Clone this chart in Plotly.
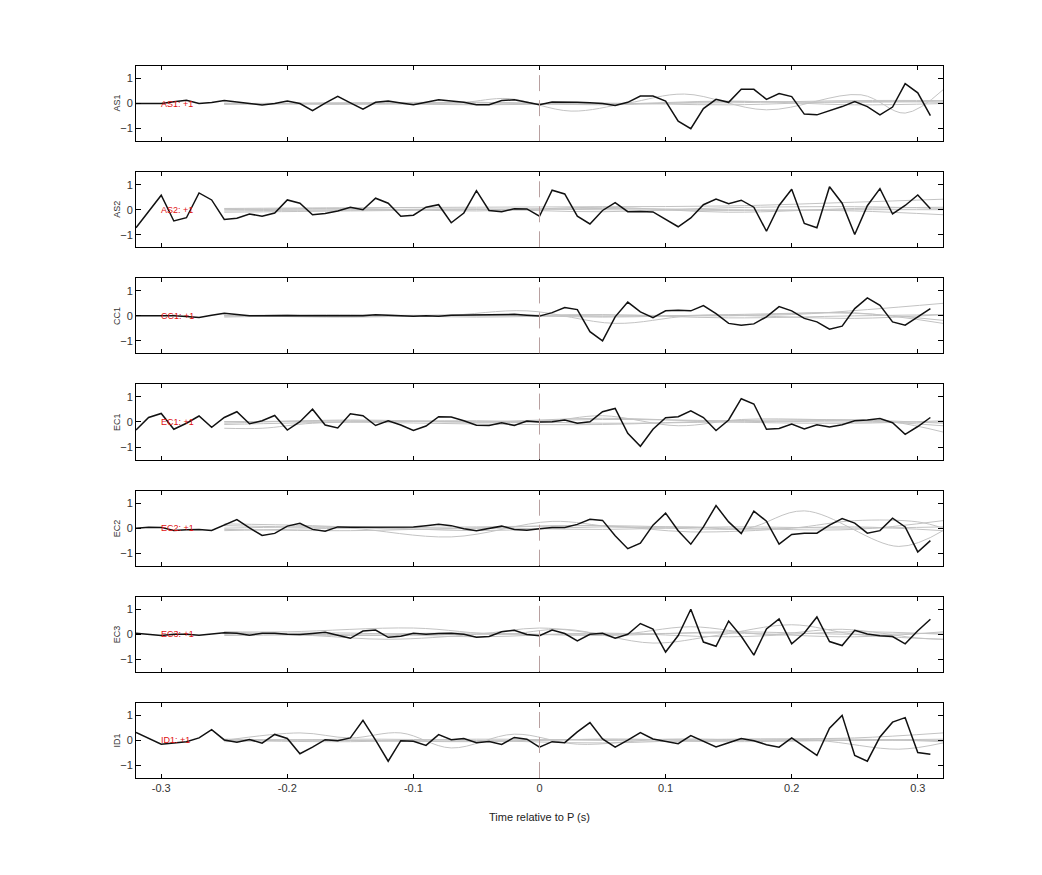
import plotly.graph_objects as go
from plotly.subplots import make_subplots

# ---------------- data ----------------
time = [-0.32, -0.31, -0.30, -0.29, -0.28, -0.27, -0.26, -0.25, -0.24, -0.23,
        -0.22, -0.21, -0.20, -0.19, -0.18, -0.17, -0.16, -0.15, -0.14, -0.13,
        -0.12, -0.11, -0.10, -0.09, -0.08, -0.07, -0.06, -0.05, -0.04, -0.03,
        -0.02, -0.01, 0.00, 0.01, 0.02, 0.03, 0.04, 0.05, 0.06, 0.07,
        0.08, 0.09, 0.10, 0.11, 0.12, 0.13, 0.14, 0.15, 0.16, 0.17,
        0.18, 0.19, 0.20, 0.21, 0.22, 0.23, 0.24, 0.25, 0.26, 0.27,
        0.28, 0.29, 0.30, 0.31]

stations = ["AS1", "AS2", "CC1", "EC1", "EC2", "EC3", "ID1"]
labels = ["AS1: +1", "AS2: +1", "CC1: +1", "EC1: +1", "EC2: +1", "EC3: +1", "ID1: +1"]

as1 = [0.0, 0.0, 0.0, 0.07, 0.13, 0.0, 0.04, 0.12, 0.06, 0.0,
       -0.06, 0.0, 0.1, 0.0, -0.28, 0.02, 0.29, 0.03, -0.22, 0.05,
       0.1, 0.02, -0.05, 0.05, 0.15, 0.1, 0.05, -0.05, -0.05, 0.12,
       0.15, 0.05, -0.05, 0.06, 0.07, 0.05, 0.03, 0.0, -0.08, 0.05,
       0.3, 0.3, 0.1, -0.7, -1.0, -0.2, 0.17, 0.05, 0.57, 0.57,
       0.17, 0.4, 0.28, -0.42, -0.45, -0.3, -0.12, 0.08, -0.12, -0.45,
       -0.14, 0.8, 0.43, -0.48]
as2 = [-0.72, -0.07, 0.58, -0.45, -0.32, 0.67, 0.39, -0.39, -0.34, -0.17,
       -0.26, -0.13, 0.39, 0.26, -0.2, -0.15, -0.05, 0.1, 0.0, 0.46,
       0.26, -0.26, -0.22, 0.1, 0.2, -0.52, -0.13, 0.76, -0.03, -0.08,
       0.04, 0.03, -0.26, 0.78, 0.63, -0.26, -0.57, -0.03, 0.28, -0.08,
       -0.07, -0.09, -0.39, -0.68, -0.33, 0.2, 0.43, 0.24, 0.38, 0.1,
       -0.86, 0.17, 0.82, -0.55, -0.72, 0.92, 0.26, -0.99, 0.16, 0.84,
       -0.17, 0.17, 0.59, 0.04]
cc1 = [0.0, 0.0, 0.02, 0.0, -0.03, -0.07, 0.02, 0.1, 0.05, 0.0,
       0.0, 0.02, 0.01, 0.0, 0.0, -0.02, 0.0, 0.0, 0.0, 0.04,
       0.02, -0.01, -0.02, 0.0, -0.02, 0.02, 0.03, 0.01, 0.02, 0.05,
       0.06, 0.02, -0.01, 0.13, 0.33, 0.25, -0.63, -1.0, -0.04, 0.55,
       0.16, -0.07, 0.2, 0.22, 0.2, 0.41, 0.09, -0.3, -0.37, -0.32,
       -0.04, 0.37, 0.2, -0.1, -0.24, -0.53, -0.41, 0.29, 0.72, 0.42,
       -0.24, -0.37, -0.04, 0.29]
ec1 = [-0.32, 0.18, 0.34, -0.29, -0.05, 0.24, -0.21, 0.18, 0.41, -0.07,
       0.05, 0.26, -0.32, 0.01, 0.51, -0.12, -0.24, 0.33, 0.25, -0.14,
       0.05, -0.12, -0.34, -0.16, 0.21, 0.2, 0.05, -0.13, -0.14, -0.03,
       -0.14, 0.04, 0.0, 0.01, 0.08, -0.05, 0.01, 0.41, 0.54, -0.45,
       -0.97, -0.29, 0.17, 0.21, 0.45, 0.18, -0.34, 0.08, 0.93, 0.72,
       -0.29, -0.26, -0.08, -0.28, -0.11, -0.2, -0.11, 0.05, 0.08, 0.14,
       -0.03, -0.49, -0.18, 0.18]
ec2 = [0.0, 0.04, 0.03, -0.09, -0.06, -0.05, -0.09, 0.12, 0.34, 0.01,
       -0.29, -0.21, 0.08, 0.19, -0.05, -0.12, 0.05, 0.04, 0.04, 0.04,
       0.04, 0.04, 0.05, 0.1, 0.16, 0.1, -0.02, -0.1, -0.02, 0.08,
       -0.05, -0.08, -0.02, 0.03, 0.03, 0.15, 0.35, 0.31, -0.3, -0.82,
       -0.6, 0.12, 0.6, -0.1, -0.64, 0.05, 0.9, 0.25, -0.22, 0.68,
       0.28, -0.64, -0.25, -0.2, -0.2, 0.12, 0.38, 0.2, -0.2, -0.1,
       0.4, 0.05, -0.95, -0.5]
ec3 = [0.04, 0.0, -0.05, 0.0, 0.0, -0.04, 0.01, 0.06, 0.04, -0.04,
       0.04, 0.04, 0.0, -0.01, 0.03, 0.08, -0.04, -0.16, 0.13, 0.17,
       -0.12, -0.08, 0.04, 0.0, 0.03, 0.04, 0.0, -0.12, -0.09, 0.1,
       0.16, -0.01, -0.06, 0.17, 0.03, -0.26, 0.0, 0.04, -0.16, 0.0,
       0.43, 0.21, -0.71, -0.05, 1.0, -0.31, -0.48, 0.53, -0.08, -0.83,
       0.21, 0.61, -0.38, 0.05, 0.69, -0.29, -0.45, 0.16, 0.01, -0.06,
       -0.09, -0.38, 0.14, 0.6]
id1 = [0.32, 0.08, -0.15, -0.1, -0.05, 0.1, 0.43, 0.02, -0.07, 0.04,
       -0.11, 0.24, 0.08, -0.53, -0.27, 0.03, -0.01, 0.1, 0.8, 0.01,
       -0.83, -0.01, -0.03, -0.2, 0.23, 0.03, 0.08, -0.09, -0.04, -0.16,
       0.12, 0.05, -0.27, -0.05, -0.09, 0.34, 0.71, 0.06, -0.27, 0.01,
       0.31, 0.06, -0.04, -0.13, 0.19, -0.04, -0.26, -0.09, 0.08, -0.01,
       -0.17, -0.27, 0.1, -0.25, -0.6, 0.49, 1.0, -0.6, -0.83, 0.14,
       0.73, 0.91, -0.48, -0.55]
series = [as1, as2, cc1, ec1, ec2, ec3, id1]

# smooth grey traces: knot times and values (drawn with spline smoothing)
knots_std = [-0.25, -0.15, -0.05, 0.05, 0.15, 0.25, 0.32]
grey_as1 = [
    ([-0.25, -0.10, -0.06, -0.025, 0.025, 0.07, 0.115, 0.18, 0.255, 0.29, 0.32],
     [0.0, 0.0, 0.05, 0.2, -0.3, 0.02, 0.38, -0.25, 0.35, -0.38, 0.55]),
    (knots_std, [0.02, -0.03, 0.05, -0.05, 0.08, 0.05, 0.1]),
    (knots_std, [-0.03, 0.02, -0.02, 0.02, -0.05, 0.08, 0.05]),
    (knots_std, [0.0, 0.03, 0.05, -0.03, 0.1, -0.05, 0.0]),
    (knots_std, [-0.02, 0.0, -0.05, 0.0, 0.03, 0.12, 0.12]),
]
grey_as2 = [
    (knots_std, [0.05, 0.08, 0.1, 0.12, 0.15, 0.3, 0.42]),
    (knots_std, [-0.1, -0.05, 0.0, 0.05, 0.0, -0.05, -0.2]),
    (knots_std, [0.0, 0.05, -0.05, 0.1, -0.1, 0.05, 0.1]),
    (knots_std, [0.03, -0.02, 0.02, -0.08, 0.08, 0.12, 0.05]),
    (knots_std, [-0.05, 0.0, 0.03, 0.0, -0.03, 0.0, 0.0]),
]
grey_cc1 = [
    ([-0.25, -0.08, -0.01, 0.06, 0.12, 0.2, 0.26, 0.32],
     [0.0, 0.0, 0.2, -0.3, 0.0, 0.05, 0.25, 0.5]),
    (knots_std, [0.0, 0.05, -0.05, 0.03, 0.0, 0.12, -0.3]),
    (knots_std, [0.02, -0.05, 0.05, -0.05, 0.05, 0.1, -0.18]),
    (knots_std, [-0.05, 0.03, 0.0, 0.05, -0.08, 0.0, 0.05]),
    (knots_std, [0.0, 0.0, 0.03, -0.02, 0.02, -0.1, 0.05]),
]
grey_ec1 = [
    ([-0.25, -0.22, -0.18, -0.1, 0.0, 0.05, 0.11, 0.16, 0.22, 0.28, 0.32],
     [-0.25, -0.25, -0.05, 0.03, 0.0, 0.25, -0.15, 0.1, 0.1, 0.0, -0.4]),
    (knots_std, [-0.1, 0.0, 0.05, -0.05, 0.0, 0.05, -0.15]),
    (knots_std, [0.0, 0.05, 0.0, 0.1, 0.05, 0.0, 0.0]),
    (knots_std, [0.02, 0.0, -0.08, -0.1, 0.05, 0.08, -0.05]),
    (knots_std, [-0.05, 0.08, 0.0, 0.15, 0.0, -0.05, 0.05]),
]
grey_ec2 = [
    ([-0.25, -0.2, -0.15, -0.07, 0.01, 0.06, 0.12, 0.165, 0.21, 0.285, 0.32],
     [0.1, 0.05, 0.0, -0.35, 0.27, 0.05, 0.05, 0.0, 0.69, -0.73, -0.1]),
    ([-0.25, -0.18, -0.1, -0.02, 0.05, 0.12, 0.2, 0.25, 0.3, 0.32],
     [0.17, 0.1, -0.05, 0.05, 0.1, -0.15, 0.0, 0.3, 0.25, 0.0]),
    (knots_std, [-0.05, -0.1, 0.0, -0.05, 0.05, 0.0, 0.05]),
    (knots_std, [0.0, 0.05, -0.1, 0.05, -0.05, 0.05, -0.1]),
    (knots_std, [-0.1, 0.0, 0.05, 0.1, 0.0, -0.05, 0.3]),
]
grey_ec3 = [
    ([-0.25, -0.2, -0.1, -0.03, 0.02, 0.09, 0.14, 0.2, 0.25, 0.32],
     [0.1, 0.1, 0.25, 0.0, 0.2, -0.35, -0.05, 0.38, 0.0, -0.2]),
    ([-0.25, -0.18, -0.12, -0.05, 0.0, 0.06, 0.12, 0.18, 0.24, 0.3, 0.32],
     [0.1, -0.05, -0.2, 0.0, 0.25, 0.0, 0.3, 0.0, 0.2, -0.15, -0.2]),
    (knots_std, [0.0, 0.05, -0.1, 0.05, -0.1, 0.1, 0.0]),
    (knots_std, [-0.05, 0.0, 0.05, -0.05, 0.1, 0.0, 0.05]),
    (knots_std, [0.05, -0.05, 0.0, 0.0, 0.05, -0.1, 0.1]),
]
grey_id1 = [
    ([-0.25, -0.19, -0.15, -0.11, -0.07, -0.02, 0.03, 0.1, 0.2, 0.32],
     [0.0, 0.3, 0.1, 0.3, -0.3, 0.25, -0.15, 0.05, 0.0, 0.05]),
    ([-0.25, -0.15, -0.05, 0.05, 0.15, 0.22, 0.285, 0.32],
     [0.05, 0.0, -0.05, 0.05, 0.0, 0.0, -0.35, -0.1]),
    (knots_std, [-0.05, 0.05, 0.0, -0.1, 0.05, 0.1, 0.3]),
    (knots_std, [0.0, -0.05, 0.05, 0.0, -0.05, 0.0, 0.0]),
    (knots_std, [0.03, 0.0, -0.03, 0.05, 0.0, 0.05, -0.05]),
]
greys = [grey_as1, grey_as2, grey_cc1, grey_ec1, grey_ec2, grey_ec3, grey_id1]

x_ticks = [-0.3, -0.2, -0.1, 0, 0.1, 0.2, 0.3]
x_ticktext = ["-0.3", "-0.2", "-0.1", "0", "0.1", "0.2", "0.3"]
y_ticks = [-1, 0, 1]

# ---------------- figure ----------------
n = len(stations)
fig = make_subplots(rows=n, cols=1, shared_xaxes=True, vertical_spacing=31 / 712)

FONT = "Liberation Sans, Arial, Helvetica, sans-serif"

for i in range(n):
    r = i + 1
    for (gt, gv) in greys[i]:
        fig.add_trace(go.Scatter(x=gt, y=gv, mode="lines",
                                 line=dict(color="rgb(195,195,195)", width=1,
                                           shape="spline", smoothing=1.0),
                                 hoverinfo="skip", showlegend=False),
                      row=r, col=1)
    fig.add_trace(go.Scatter(x=time, y=series[i], mode="lines",
                             line=dict(color="#111111", width=1.5),
                             showlegend=False),
                  row=r, col=1)
    xref = "x" if i == 0 else f"x{r}"
    yref = "y" if i == 0 else f"y{r}"
    fig.add_annotation(x=-0.302, y=0, xref=xref, yref=yref, text=labels[i],
                       showarrow=False, xanchor="left", yanchor="middle",
                       font=dict(color="#e01010", size=9, family=FONT))
    # station name as rotated y-axis title
    fig.add_annotation(x=-0.0235, y=0.5, xref=f"{xref} domain", yref=f"{yref} domain",
                       text=stations[i], showarrow=False, textangle=-90,
                       xanchor="center", yanchor="middle",
                       font=dict(size=9, color="#333", family=FONT))
    fig.add_shape(type="line", x0=0, x1=0, y0=-1.5, y1=1.5, xref=xref, yref=yref,
                  line=dict(color="#b8a0a0", width=1, dash="16px,9px"), layer="above")
    fig.update_yaxes(row=r, col=1, range=[-1.5, 1.5], tickvals=y_ticks,
                     ticks="inside", ticklen=5, tickcolor="black", mirror="ticks",
                     showline=True, linecolor="black", linewidth=1,
                     showgrid=False, zeroline=False,
                     tickfont=dict(size=11, color="#333", family=FONT))
    fig.update_xaxes(row=r, col=1, range=[-0.32, 0.32], tickvals=x_ticks,
                     ticktext=x_ticktext,
                     ticks="inside", ticklen=4, tickcolor="black", mirror="ticks",
                     showline=True, linecolor="black", linewidth=1,
                     showgrid=False, zeroline=False,
                     showticklabels=(r == n),
                     tickfont=dict(size=11, color="#333", family=FONT))

fig.update_xaxes(row=n, col=1,
                 title=dict(text="Time relative to P (s)", standoff=20,
                            font=dict(size=11, color="#222", family=FONT)))

fig.update_layout(width=1042, height=875,
                  margin=dict(l=128, r=107, t=58, b=105),
                  paper_bgcolor="white", plot_bgcolor="white",
                  font=dict(family=FONT),
                  showlegend=False)

fig.write_html("out.html")
